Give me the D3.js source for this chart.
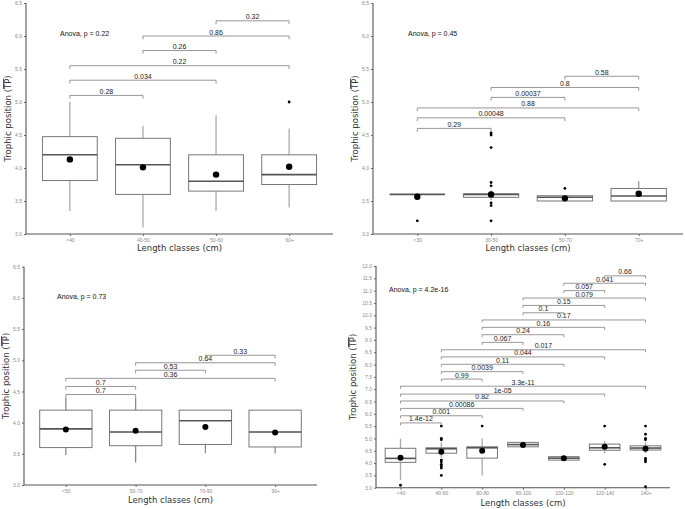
<!DOCTYPE html>
<html><head><meta charset="utf-8">
<script src="https://cdn.jsdelivr.net/npm/d3@7"></script>
<style>body{margin:0;background:#fff}</style>
</head><body>
<svg id="chart" width="685" height="509" xmlns="http://www.w3.org/2000/svg"></svg>
<script>
// ---------- Panel A (top-left) ----------
const classesA = ["<40","40-50","50-60","60+"];
const q1A = [3.81,3.60,3.65,3.75];
const medianA = [4.20,4.05,3.80,3.90];
const q3A = [4.475,4.45,4.20,4.20];
const whiskerLowA = [3.35,3.10,3.35,3.40];
const whiskerHighA = [5.00,4.64,4.80,4.60];
const meanA = [4.13,4.01,3.90,4.02];
const outliersA = [[],[],[],[5.0]];
const pairsA = [["<40","40-50"],["<40","50-60"],["<40","60+"],["40-50","50-60"],["40-50","60+"],["50-60","60+"]];
const pLabelsA = ["0.28","0.034","0.22","0.26","0.86","0.32"];
const bracketYA = [5.10,5.33,5.55,5.78,6.00,6.23];
const anovaA = "Anova, p = 0.22";
const yTicksA = [3.0,3.5,4.0,4.5,5.0,5.5,6.0,6.5];

// ---------- Panel B (top-right) ----------
const classesB = ["<30","30-50","50-70","70+"];
const q1B = [3.60,3.556,3.50,3.50];
const medianB = [3.60,3.60,3.556,3.575];
const q3B = [3.60,3.606,3.58,3.69];
const whiskerLowB = [3.60,3.52,3.50,3.50];
const whiskerHighB = [3.60,3.66,3.58,3.80];
const meanB = [3.565,3.60,3.54,3.61];
const outliersB = [[3.2],[4.53,4.50,4.31,3.78,3.73,3.47,3.43,3.2],[3.69],[]];
const pairsB = [["<30","30-50"],["<30","50-70"],["<30","70+"],["30-50","50-70"],["30-50","70+"],["50-70","70+"]];
const pLabelsB = ["0.29","0.00048","0.88","0.00037","0.8","0.58"];
const bracketYB = [4.60,4.76,4.91,5.07,5.22,5.39];
const anovaB = "Anova, p = 0.45";
const yTicksB = [3.0,3.5,4.0,4.5,5.0,5.5,6.0,6.5];

// ---------- Panel C (bottom-left) ----------
const classesC = ["<50","50-70","70-90","90+"];
const q1C = [3.60,3.63,3.65,3.61];
const medianC = [3.90,3.85,4.03,3.85];
const q3C = [4.20,4.20,4.20,4.20];
const whiskerLowC = [3.48,3.36,3.51,3.51];
const whiskerHighC = [4.40,4.40,4.20,4.20];
const meanC = [3.89,3.87,3.93,3.84];
const outliersC = [[],[],[],[]];
const pairsC = [["<50","50-70"],["<50","50-70"],["<50","90+"],["50-70","70-90"],["50-70","90+"],["70-90","90+"]];
const pLabelsC = ["0.7","0.7","0.36","0.53","0.64","0.33"];
const bracketYC = [4.45,4.58,4.71,4.84,4.96,5.08];
const anovaC = "Anova, p = 0.73";
const yTicksC = [3.0,3.5,4.0,4.5,5.0,5.5,6.0,6.5];

// ---------- Panel D (bottom-right) ----------
const classesD = ["<40","40-60","60-80","80-100","100-120","120-140","140+"];
const q1D = [4.03,4.40,4.20,4.66,4.12,4.52,4.53];
const medianD = [4.19,4.58,4.62,4.75,4.20,4.62,4.61];
const q3D = [4.60,4.62,4.66,4.84,4.26,4.77,4.70];
const whiskerLowD = [3.31,4.22,3.50,4.66,4.12,4.40,4.40];
const whiskerHighD = [4.99,4.85,5.00,4.84,4.26,4.90,4.85];
const meanD = [4.22,4.46,4.50,4.73,4.20,4.66,4.58];
const outliersD = [[3.1],[5.5,5.0,4.95,4.12,4.05,3.95,3.88,3.8,3.5],[5.5],[],[],[5.5,3.95],[5.5,5.17,5.0,4.95,4.19,4.12,4.05,3.04]];
const pairsD = [
  ["<40","40-60"],["<40","60-80"],["<40","80-100"],["<40","100-120"],["<40","120-140"],["<40","140+"],
  ["40-60","60-80"],["40-60","80-100"],["40-60","100-120"],["40-60","120-140"],["40-60","140+"],
  ["60-80","80-100"],["60-80","100-120"],["60-80","120-140"],["60-80","140+"],
  ["80-100","100-120"],["80-100","120-140"],["80-100","140+"],
  ["100-120","120-140"],["100-120","140+"],["120-140","140+"]];
const pLabelsD = ["1.4e-12","0.001","0.00086","0.82","1e-05","3.3e-11",
  "0.99","0.0039","0.11","0.044","0.017",
  "0.067","0.24","0.16","0.17",
  "0.1","0.15","0.079",
  "0.057","0.041","0.66"];
const bracketYD = [5.63,5.92,6.22,6.52,6.80,7.12,7.41,7.71,8.01,8.31,8.60,8.90,9.21,9.51,9.81,10.10,10.40,10.70,11.00,11.30,11.60];
const anovaD = "Anova, p = 4.2e-16";
const yTicksD = [3.0,3.5,4.0,4.5,5.0,5.5,6.0,6.5,7.0,7.5,8.0,8.5,9.0,9.5,10.0,10.5,11.0,11.5,12.0];

// ---------- layout ----------
const panels = [
  {classes:classesA,q1:q1A,med:medianA,q3:q3A,wl:whiskerLowA,wh:whiskerHighA,mean:meanA,out:outliersA,pairs:pairsA,plab:pLabelsA,by:bracketYA,anova:anovaA,ticks:yTicksA,
   box:{l:26,r:333,t:3,b:234}, dom:[3,6.5], anovaPos:[60,33], ytitleX:8, xtitleY:248, tip:0.05, whiskerCol:"#aaa", dotR:3.2},
  {classes:classesB,q1:q1B,med:medianB,q3:q3B,wl:whiskerLowB,wh:whiskerHighB,mean:meanB,out:outliersB,pairs:pairsB,plab:pLabelsB,by:bracketYB,anova:anovaB,ticks:yTicksB,
   box:{l:373,r:683,t:3,b:234}, dom:[3,6.5], anovaPos:[408,33], ytitleX:355, xtitleY:248, tip:0.05, whiskerCol:"#999", dotR:3.2},
  {classes:classesC,q1:q1C,med:medianC,q3:q3C,wl:whiskerLowC,wh:whiskerHighC,mean:meanC,out:outliersC,pairs:pairsC,plab:pLabelsC,by:bracketYC,anova:anovaC,ticks:yTicksC,
   box:{l:24,r:317,t:266.7,b:485}, dom:[3,6.5], anovaPos:[57,296], ytitleX:6, xtitleY:500, tip:0.05, whiskerCol:"#888", dotR:3.0},
  {classes:classesD,q1:q1D,med:medianD,q3:q3D,wl:whiskerLowD,wh:whiskerHighD,mean:meanD,out:outliersD,pairs:pairsD,plab:pLabelsD,by:bracketYD,anova:anovaD,ticks:yTicksD,
   box:{l:376,r:670,t:266,b:487.7}, dom:[3,12], anovaPos:[389,289], ytitleX:353, xtitleY:503, tip:0.1, whiskerCol:"#aaa", dotR:3.0}
];

const svg = d3.select("#chart");
const labelFont = "'Liberation Sans', Arial, sans-serif";
const titleFont = "'DejaVu Sans', Verdana, sans-serif";

panels.forEach(p => {
  const g = svg.append("g");
  const x = d3.scalePoint().domain(p.classes).range([p.box.l, p.box.r]).padding(0.6);
  const y = d3.scaleLinear().domain(p.dom).range([p.box.b, p.box.t]);
  const bw = x.step() * 0.75;

  // axes
  const yAxis = d3.axisLeft(y).tickValues(p.ticks).tickFormat(d3.format(".1f")).tickSize(2).tickPadding(2);
  const ya = g.append("g").attr("transform", `translate(${p.box.l},0)`).call(yAxis);
  const xAxis = d3.axisBottom(x).tickSize(2).tickPadding(2);
  const xa = g.append("g").attr("transform", `translate(0,${p.box.b})`).call(xAxis);
  [ya, xa].forEach(a => {
    a.select(".domain").attr("stroke", "#555").attr("stroke-width", 1.1);
    a.selectAll(".tick line").attr("stroke", "#666");
    a.selectAll(".tick text").attr("fill", "#8a8a8a").style("font-size", "5px").style("font-family", labelFont);
  });
  ya.select(".domain").attr("d", `M0,${p.box.t}V${p.box.b}`);
  xa.select(".domain").attr("d", `M${p.box.l},0H${p.box.r}`);

  // boxes
  p.classes.forEach((c, i) => {
    const cx = x(c);
    g.append("line").attr("x1", cx).attr("x2", cx).attr("y1", y(p.wl[i])).attr("y2", y(p.q1[i]))
      .attr("stroke", p.whiskerCol).attr("stroke-width", 1.3);
    g.append("line").attr("x1", cx).attr("x2", cx).attr("y1", y(p.q3[i])).attr("y2", y(p.wh[i]))
      .attr("stroke", p.whiskerCol).attr("stroke-width", 1.3);
    g.append("rect").attr("x", cx - bw / 2).attr("width", bw)
      .attr("y", y(p.q3[i])).attr("height", Math.max(0, y(p.q1[i]) - y(p.q3[i])))
      .attr("fill", "#fff").attr("stroke", "#777").attr("stroke-width", 1);
    g.append("line").attr("x1", cx - bw / 2).attr("x2", cx + bw / 2).attr("y1", y(p.med[i])).attr("y2", y(p.med[i]))
      .attr("stroke", "#555").attr("stroke-width", 1.6);
    p.out[i].forEach(v => {
      g.append("circle").attr("cx", cx).attr("cy", y(v)).attr("r", 1.4).attr("fill", "#000");
    });
    g.append("circle").attr("cx", cx).attr("cy", y(p.mean[i])).attr("r", p.dotR).attr("fill", "#000");
  });

  // brackets
  p.pairs.forEach((pr, k) => {
    const x1 = x(pr[0]), x2 = x(pr[1]);
    const yy = y(p.by[k]), yt = y(p.by[k] - p.tip);
    g.append("path").attr("d", `M${x1},${yt}V${yy}H${x2}V${yt}`)
      .attr("fill", "none").attr("stroke", "#8c8c8c").attr("stroke-width", 0.9);
    g.append("text").attr("x", (x1 + x2) / 2).attr("y", yy - 1.5).attr("text-anchor", "middle")
      .style("font-family", labelFont).style("font-size", "7px").attr("fill", "#222").text(p.plab[k]);
  });

  // anova
  g.append("text").attr("x", p.anovaPos[0]).attr("y", p.anovaPos[1]).attr("dominant-baseline", "central")
    .style("font-family", labelFont).style("font-size", "7px").attr("fill", "#111").text(p.anova);

  // titles
  g.append("text").attr("x", (p.box.l + p.box.r) / 2).attr("y", p.xtitleY).attr("text-anchor", "middle")
    .attr("dominant-baseline", "central").style("font-family", titleFont).style("font-size", "8.5px")
    .attr("fill", "#333").text("Length classes (cm)");
  const yt = g.append("text").attr("transform", `translate(${p.ytitleX},${(p.box.t + p.box.b) / 2}) rotate(-90)`)
    .attr("text-anchor", "middle").attr("dominant-baseline", "central")
    .style("font-family", titleFont).style("font-size", "8.5px").attr("fill", "#333");
  yt.append("tspan").text("Trophic position (");
  yt.append("tspan").style("text-decoration", "overline").text("TP");
  yt.append("tspan").text(")");
});
</script>
</body></html>
